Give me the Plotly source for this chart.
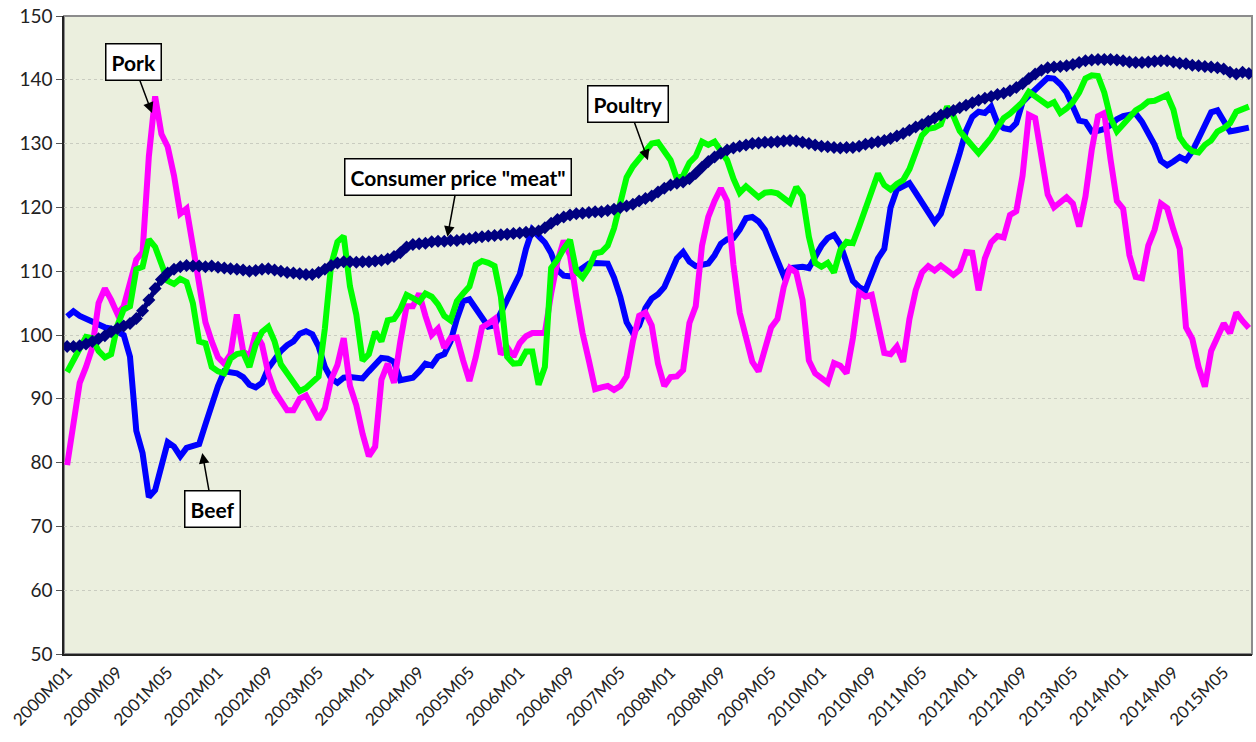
import plotly.graph_objects as go

start_year = 2000
n_months = 189
periods = [f"{start_year + k // 12}M{k % 12 + 1:02d}" for k in range(n_months)]
tick_every = 8

meat = [
    98.2, 98.2, 98.3, 98.6, 99.0, 99.4, 99.9, 100.5,
    101.0, 101.4, 101.8, 102.6, 103.8, 105.5, 107.3, 108.7,
    109.7, 110.3, 110.7, 110.9, 110.8, 110.8, 110.7, 110.8,
    110.6, 110.5, 110.4, 110.3, 110.2, 110.0, 110.1, 110.3,
    110.4, 110.2, 110.0, 109.8, 109.7, 109.6, 109.5, 109.5,
    109.8, 110.3, 110.9, 111.3, 111.5, 111.5, 111.4, 111.5,
    111.5, 111.6, 111.7, 111.9, 112.3, 112.9, 113.8, 114.2,
    114.3, 114.4, 114.6, 114.7, 114.7, 114.8, 114.8, 115.0,
    115.1, 115.3, 115.4, 115.5, 115.6, 115.7, 115.8, 115.9,
    116.0, 116.1, 116.2, 116.3, 116.8, 117.5, 118.1, 118.5,
    118.8, 119.0, 119.1, 119.2, 119.3, 119.3, 119.5, 119.7,
    120.0, 120.2, 120.5, 121.0, 121.4, 121.8, 122.4, 123.0,
    123.5, 123.8, 124.0, 124.5, 125.3, 126.3, 127.2, 127.9,
    128.5, 129.0, 129.3, 129.6, 129.8, 130.0, 130.1, 130.2,
    130.2, 130.3, 130.4, 130.5, 130.4, 130.2, 130.0, 129.8,
    129.6, 129.5, 129.4, 129.3, 129.4, 129.4, 129.6, 129.9,
    130.1, 130.3, 130.5, 130.8, 131.2, 131.6, 132.1, 132.6,
    133.0, 133.5, 134.0, 134.5, 134.8, 135.2, 135.6, 136.0,
    136.4, 136.8, 137.1, 137.4, 137.7, 137.9, 138.3, 138.8,
    139.4, 140.2, 140.9, 141.5, 141.9, 142.0, 142.1, 142.2,
    142.4, 142.7, 143.0, 143.1, 143.2, 143.2, 143.2, 143.1,
    143.0, 142.8, 142.7, 142.7, 142.8, 142.9, 143.0, 143.0,
    142.8, 142.6, 142.5, 142.3, 142.2, 142.1, 142.0, 141.9,
    141.7, 141.2, 140.9, 141.2, 141.0,
]

beef = [
    102.9, 103.7, 103.0, 102.5, 102.0, 101.5, 101.2, 101.0,
    100.5, 100.0, 96.6, 85.0, 81.5, 74.6, 75.7, 79.3,
    83.2, 82.5, 81.0, 82.3, 82.6, 82.9, 86.0, 89.3,
    92.0, 94.3, 94.2, 94.0, 93.4, 92.2, 91.8, 92.5,
    94.8, 96.2, 97.5, 98.4, 99.0, 100.2, 100.6, 100.1,
    98.2, 95.0, 93.2, 92.5, 93.3, 93.4, 93.4, 93.2,
    94.3, 95.5, 96.4, 96.3, 95.8, 92.9, 93.0, 93.3,
    94.3, 95.5, 95.2, 96.6, 97.0, 99.0, 102.5, 105.3,
    105.6, 104.2, 102.5, 101.3, 101.5, 103.5, 105.3, 107.0,
    109.5, 113.5, 116.5, 115.5, 114.5, 112.8, 110.2, 109.3,
    109.2, 109.8, 110.5, 111.2, 111.3, 111.3, 111.2, 109.0,
    106.0, 102.0, 100.3, 101.5, 104.2, 105.7, 106.4, 107.5,
    109.5, 112.0, 113.0, 111.5, 110.8, 111.0, 111.2, 112.5,
    114.3, 115.0, 115.2, 116.5, 118.3, 118.5, 117.8, 116.5,
    114.0, 111.5, 109.3, 110.5, 110.7, 110.7, 110.5, 112.5,
    114.0, 115.2, 115.7, 114.2, 111.0, 108.5, 107.5, 107.0,
    109.5, 112.0, 113.5, 120.0, 122.8, 123.3, 123.8, 122.3,
    120.8, 119.3, 117.7, 119.0, 122.0, 125.0, 128.5, 132.0,
    134.2, 135.0, 134.8, 135.8, 133.2, 132.4, 132.2, 133.2,
    136.5, 137.5, 138.5, 139.5, 140.3, 140.2, 139.3, 138.0,
    135.5, 133.6, 133.4, 131.9, 132.0, 132.3, 132.9, 133.8,
    134.3, 134.6, 134.7, 133.4, 131.6, 129.8, 127.3, 126.6,
    127.2, 127.9, 127.4, 128.8, 130.8, 133.0, 134.9, 135.2,
    133.5, 131.9, 132.1, 132.2, 132.5,
]

pork = [
    79.6, 86.0, 92.5, 95.0, 98.0, 105.0, 107.3, 105.5,
    103.3, 104.5, 108.0, 111.8, 113.0, 128.0, 137.4, 131.5,
    129.5, 125.0, 119.0, 119.8, 114.0, 108.5, 102.0, 99.0,
    96.5, 95.5, 97.0, 103.2, 97.5, 96.5, 100.3, 98.5,
    94.0, 91.2, 89.5, 88.2, 88.2, 90.0, 90.5, 88.5,
    86.8, 88.5, 93.0, 95.3, 99.5, 92.0, 89.0, 84.5,
    81.0, 82.5, 93.0, 95.5, 92.5, 99.0, 104.5, 104.5,
    106.5, 103.0, 100.0, 101.0, 98.0, 99.5, 99.6, 96.0,
    92.8, 96.5, 101.2, 101.8, 102.5, 97.0, 98.1, 96.6,
    98.7, 99.8, 100.3, 100.3, 100.3, 106.5, 111.5, 114.8,
    112.5, 106.0, 100.3, 96.0, 91.5, 91.8, 92.0, 91.4,
    92.0, 93.5, 99.0, 103.0, 103.5, 101.5, 95.5, 92.0,
    93.4, 93.5, 94.5, 101.9, 104.5, 114.0, 118.5, 121.0,
    123.0, 121.0, 111.0, 103.5, 100.0, 95.8, 94.3, 98.2,
    101.2, 102.5, 107.5, 110.5, 109.8, 105.5, 96.0, 94.0,
    93.3, 92.5, 95.6, 95.2, 94.0, 99.5, 106.7, 106.0,
    106.3, 101.5, 97.2, 97.0, 98.2, 95.8, 102.5, 107.0,
    109.8, 110.8, 110.1, 110.9, 110.2, 109.4, 110.2, 113.0,
    112.9, 107.0, 112.0, 114.5, 115.5, 115.3, 118.8, 119.4,
    125.0, 134.5, 134.0, 127.5, 122.0, 120.0, 120.8, 121.6,
    120.6, 117.0, 121.7, 129.0, 134.3, 134.8, 127.5, 121.0,
    119.8, 112.5, 109.1, 108.9, 114.0, 116.5, 120.6, 119.9,
    116.5, 113.5, 101.2, 99.4, 95.0, 91.9, 97.5, 99.8,
    101.8, 100.3, 103.5, 102.2, 101.1,
]

poultry = [
    94.2, 96.0, 98.1, 99.7, 99.5, 97.5, 96.5, 97.0,
    101.5, 104.0, 104.5, 110.3, 110.7, 115.0, 113.8, 111.0,
    108.5, 108.0, 108.8, 108.3, 105.0, 99.0, 98.7, 95.0,
    94.3, 94.0, 96.3, 97.0, 97.2, 95.0, 98.5, 100.5,
    101.3, 99.0, 95.4, 94.0, 92.6, 91.2, 91.7, 92.5,
    93.5, 101.0, 111.0, 114.6, 115.5, 107.6, 103.2, 96.0,
    97.0, 100.5, 99.0, 102.3, 102.5, 104.0, 106.3, 105.8,
    105.2, 106.5, 106.0, 104.8, 103.0, 102.3, 105.3, 106.5,
    107.6, 111.0, 111.6, 111.3, 110.8, 106.0, 96.6, 95.5,
    95.6, 97.4, 97.4, 92.2, 95.0, 110.5, 111.8, 113.5,
    114.9, 110.0, 109.0, 110.5, 112.8, 113.0, 114.0, 116.7,
    121.2, 124.7, 126.4, 127.6, 128.5, 130.0, 130.2, 128.7,
    127.4, 124.5, 125.0, 127.0, 128.0, 130.3, 129.8, 130.3,
    128.8, 127.4, 124.5, 122.3, 123.3, 122.5, 121.6, 122.3,
    122.4, 122.2, 121.5, 120.7, 123.2, 121.8, 115.4, 111.3,
    110.7, 111.3, 109.8, 113.3, 114.6, 114.4, 117.0, 120.0,
    123.0, 125.3, 123.5, 122.8, 123.7, 124.3, 126.0, 128.5,
    131.3, 132.3, 132.5, 133.0, 135.8, 134.3, 132.0, 130.8,
    129.6, 128.5, 129.7, 130.9, 132.5, 134.0, 134.7, 135.5,
    136.5, 138.1, 137.4, 136.7, 136.0, 136.5, 134.8, 135.5,
    136.5, 138.0, 140.2, 140.7, 140.6, 138.0, 134.0, 131.9,
    133.0, 134.0, 135.2, 135.8, 136.6, 136.7, 137.2, 137.6,
    135.3, 131.0, 129.6, 128.8, 128.6, 129.8, 130.5, 131.9,
    132.4, 133.2, 135.0, 135.5, 135.8,
]

for s in (meat, beef, pork, poultry):
    assert len(s) == n_months, len(s)

y_ticks = list(range(50, 151, 10))

FONT = "Lato, 'Open Sans', sans-serif"
x_idx = list(range(n_months))

fig = go.Figure()
fig.add_trace(go.Scatter(x=x_idx, y=beef, mode="lines", name="Beef",
                         line=dict(color="#0000FF", width=6)))
fig.add_trace(go.Scatter(x=x_idx, y=pork, mode="lines", name="Pork",
                         line=dict(color="#FF00FF", width=6)))
fig.add_trace(go.Scatter(x=x_idx, y=poultry, mode="lines", name="Poultry",
                         line=dict(color="#00FF00", width=6)))
fig.add_trace(go.Scatter(x=x_idx, y=meat, mode="lines+markers", name="Meat",
                         line=dict(color="#000080", width=5),
                         marker=dict(symbol="diamond", size=10, color="#000080")))

def label(text, idx, val, ax, ay):
    fig.add_annotation(
        x=idx, y=val, xref="x", yref="y", text=f"<b>{text}</b>",
        showarrow=True, ax=ax, ay=ay, axref="pixel", ayref="pixel",
        arrowhead=2, arrowsize=1.4, arrowwidth=1.5, arrowcolor="black",
        font=dict(family=FONT, size=21, color="black"),
        bgcolor="white", bordercolor="black", borderwidth=1.5, borderpad=5,
    )

label("Pork", 13.5, 134.8, -19, -51)
label('Consumer price "meat"', 60.5, 115.4, 11, -60)
label("Poultry", 92.4, 127.4, -20, -56)
label("Beef", 21.5, 81.5, 10, 56)

fig.add_shape(type="rect", xref="paper", yref="paper", x0=0, y0=0, x1=1, y1=1,
              line=dict(color="#8c8c8c", width=2), layer="below")

fig.update_layout(
    width=1256, height=742,
    margin=dict(l=64, r=4, t=16, b=88),
    paper_bgcolor="white",
    plot_bgcolor="#EBEFDE",
    showlegend=False,
    font=dict(family=FONT, color="#222222"),
)
fig.update_xaxes(
    range=[-0.5, n_months - 0.5],
    tickmode="array",
    tickvals=x_idx[::tick_every],
    ticktext=periods[::tick_every],
    tickangle=-45,
    tickfont=dict(size=17, family=FONT, color="#222222"),
    showgrid=False, zeroline=False,
    showline=True, linecolor="#222222", linewidth=1.5,
    ticks="",
)
fig.update_yaxes(
    range=[50, 150],
    tickmode="array", tickvals=y_ticks,
    tickfont=dict(size=19, family=FONT, color="#222222"),
    showgrid=True, gridcolor="#C9CCC0", gridwidth=1, griddash="3px,3px",
    zeroline=False,
    showline=True, linecolor="#222222", linewidth=1.5,
    ticks="outside", ticklen=6, tickcolor="#555555",
)

fig.write_html(
    "out.html",
    config={"displayModeBar": False},
    post_script="document.body.style.margin='0';document.body.style.overflow='hidden';",
)
